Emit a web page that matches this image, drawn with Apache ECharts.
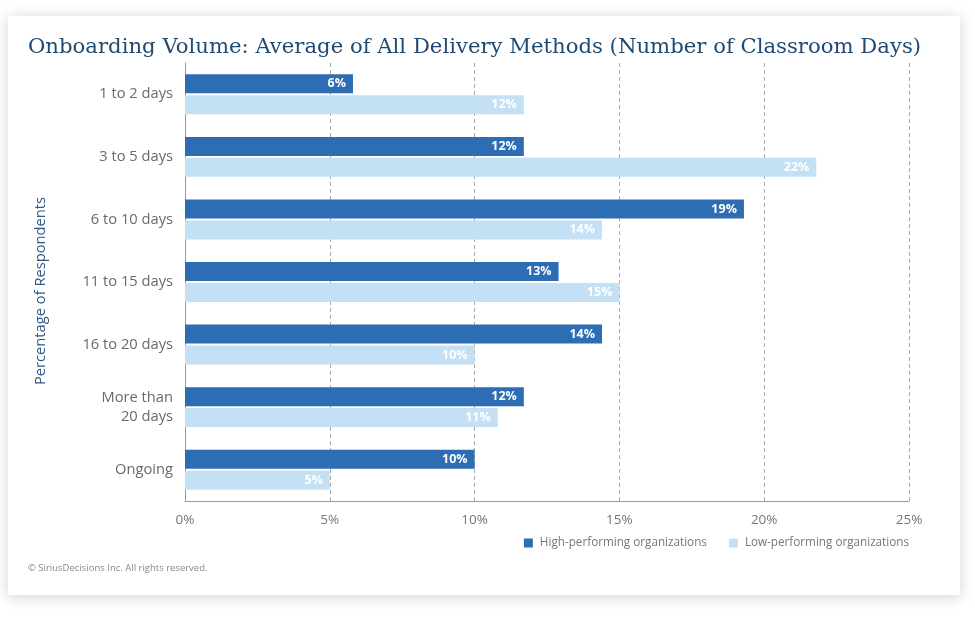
<!DOCTYPE html>
<html>
<head>
<meta charset="utf-8">
<script src="https://cdn.jsdelivr.net/npm/echarts@6/dist/echarts.min.js"></script>
<style>
html,body{margin:0;padding:0;background:#fff;}
#chart{width:975px;height:618px;}
</style>
</head>
<body>
<div id="chart"></div>
<script>
const categories = ['1 to 2 days', '3 to 5 days', '6 to 10 days', '11 to 15 days', '16 to 20 days', 'More than\n20 days', 'Ongoing'];
const highPerforming = [5.8, 11.7, 19.3, 12.9, 14.4, 11.7, 10.0];
const lowPerforming = [11.7, 21.8, 14.4, 15.0, 10.0, 10.8, 5.0];
const seriesNames = ['High-performing organizations', 'Low-performing organizations'];
const xTicks = [0, 5, 10, 15, 20, 25];

const chart = echarts.init(document.getElementById('chart'), null, {renderer: 'canvas'});
const labelStyle = {
  show: true, position: 'insideRight', color: '#fff', fontWeight: 'bold',
  fontFamily: 'Open Sans', fontSize: 12.5, distance: 7,
  formatter: p => Math.round(p.value) + '%'
};
chart.setOption({
  animation: false,
  backgroundColor: '#fff',
  graphic: [{
    type: 'rect', z: -10, silent: true,
    shape: {x: 8, y: 16, width: 952, height: 579},
    style: {fill: '#fff', shadowBlur: 14, shadowColor: 'rgba(0,0,0,0.18)', shadowOffsetY: 2}
  }, {
    type: 'text', left: 28, top: 563,
    style: {text: '\u00A9 SiriusDecisions Inc. All rights reserved.', fill: '#888', fontSize: 9.5, fontFamily: 'Open Sans'}
  }],
  title: {
    text: 'Onboarding Volume: Average of All Delivery Methods (Number of Classroom Days)',
    left: 23, top: 32,
    textStyle: {fontFamily: 'DejaVu Serif', fontSize: 21.2, fontWeight: 'normal', color: '#1f4a72'}
  },
  legend: {
    right: 61, top: 532, itemWidth: 9, itemHeight: 9, itemGap: 22,
    icon: 'rect',
    textStyle: {color: '#777', fontSize: 11.7, fontFamily: 'Open Sans', padding: [0, 0, 0, 2]},
    data: seriesNames
  },
  grid: {left: 185, top: 63, width: 724, height: 438, containLabel: false},
  xAxis: {
    type: 'value', min: xTicks[0], max: xTicks[xTicks.length - 1], interval: 5,
    axisLine: {show: true, lineStyle: {color: '#999'}},
    axisTick: {show: false},
    axisLabel: {color: '#777', fontSize: 13.5, fontFamily: 'Open Sans', margin: 12, formatter: v => v + '%'},
    splitLine: {show: true, lineStyle: {color: '#aaa', type: [4, 3]}}
  },
  yAxis: {
    type: 'category', data: categories, inverse: true,
    name: 'Percentage of Respondents', nameLocation: 'middle', nameGap: 137, nameRotate: 90,
    nameTextStyle: {color: '#2f5a85', fontSize: 14.7, fontFamily: 'Open Sans', padding: [0, 18, 0, 0]},
    axisLine: {show: true, lineStyle: {color: '#999'}},
    axisTick: {show: false},
    axisLabel: {color: '#6a6a6a', fontSize: 14.7, fontFamily: 'Open Sans', margin: 12, lineHeight: 19}
  },
  series: [{
    name: seriesNames[0], type: 'bar', data: highPerforming,
    barWidth: 19, barGap: '10%',
    itemStyle: {color: '#2c6db3'}, label: labelStyle
  }, {
    name: seriesNames[1], type: 'bar', data: lowPerforming,
    barWidth: 19, barGap: '10%',
    itemStyle: {color: '#c3e0f4'}, label: labelStyle
  }]
});
</script>
</body>
</html>
